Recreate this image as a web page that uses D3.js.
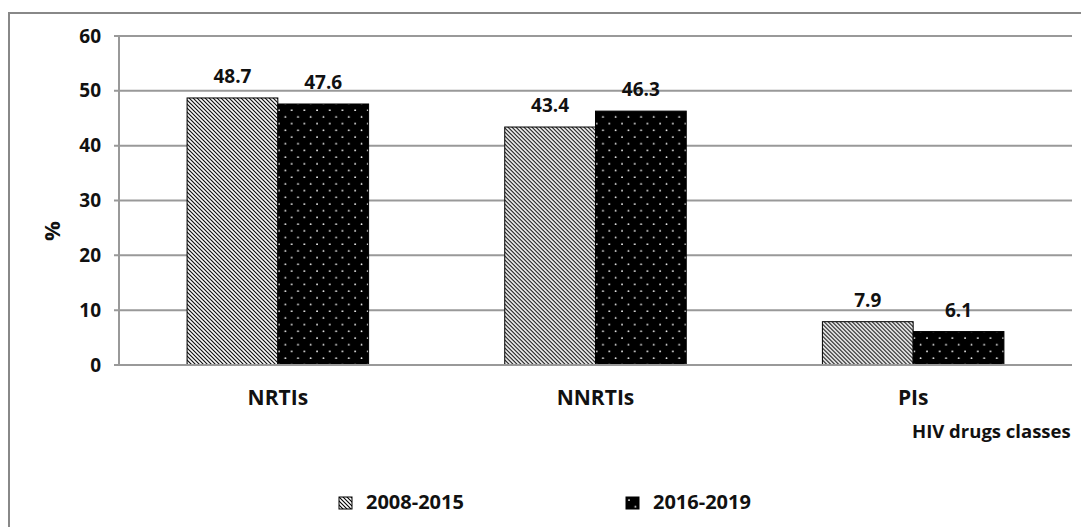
<!DOCTYPE html>
<html lang="en">
<head>
  <meta charset="UTF-8">
  <title>HIV drugs classes</title>
  <script src="https://d3js.org/d3.v7.min.js"></script>
  <style>
    body { margin: 0; background: #fff; }
    text { font-family: "Open Sans", sans-serif; font-weight: bold; fill: #111; }
    .grid line { stroke: #999; stroke-width: 2px; }
  </style>
</head>
<body>
  <div id="chart"></div>
  <script>
    // data
    const categories = ["NRTIs", "NNRTIs", "PIs"];
    const seriesNames = ["2008-2015", "2016-2019"];
    const values2008 = [48.7, 43.4, 7.9];
    const values2016 = [47.6, 46.3, 6.1];
    const yTicks = [0, 10, 20, 30, 40, 50, 60];

    const W = 1081, H = 527;
    const plot = { left: 119, right: 1072, top: 36, bottom: 365 };

    const svg = d3.select("#chart").append("svg")
      .attr("width", W).attr("height", H);

    const defs = svg.append("defs");

    // diagonal hatch for 2008-2015
    const hatch = defs.append("pattern")
      .attr("id", "hatch").attr("patternUnits", "userSpaceOnUse")
      .attr("width", 4).attr("height", 4);
    hatch.append("rect").attr("width", 4).attr("height", 4).attr("fill", "#fff");
    hatch.append("path")
      .attr("d", "M-1,-1 L5,5 M-1,3 L1,5 M3,-1 L5,1")
      .attr("stroke", "#000").attr("stroke-width", 1.1);

    // black with white dots for 2016-2019
    const dots = defs.append("pattern")
      .attr("id", "dots").attr("patternUnits", "userSpaceOnUse")
      .attr("width", 12.7).attr("height", 13.4);
    dots.append("rect").attr("width", 12.7).attr("height", 13.4).attr("fill", "#000");
    dots.append("circle").attr("cx", 3).attr("cy", 3).attr("r", 0.9).attr("fill", "#fff");
    dots.append("circle").attr("cx", 9.35).attr("cy", 9.7).attr("r", 0.9).attr("fill", "#fff");

    const fills = ["url(#hatch)", "url(#dots)"];

    // outer frame (cropped on right and bottom in the reference)
    svg.append("rect")
      .attr("x", 9).attr("y", 13).attr("width", 1300).attr("height", 700)
      .attr("fill", "none").attr("stroke", "#888").attr("stroke-width", 2);

    const y = d3.scaleLinear().domain([0, 60]).range([plot.bottom, plot.top]);
    const x0 = d3.scaleBand().domain(categories)
      .range([plot.left, plot.right])
      .paddingInner(0.4286).paddingOuter(0.2143);
    const x1 = d3.scaleBand().domain(seriesNames).range([0, x0.bandwidth()]);

    // gridlines
    svg.append("g").attr("class", "grid")
      .selectAll("line").data(yTicks).join("line")
      .attr("x1", plot.left - 5).attr("x2", plot.right)
      .attr("y1", d => y(d)).attr("y2", d => y(d));

    // y axis line
    svg.append("line")
      .attr("x1", plot.left).attr("x2", plot.left)
      .attr("y1", plot.top).attr("y2", plot.bottom)
      .attr("stroke", "#999").attr("stroke-width", 2);

    // y tick labels
    svg.append("g").selectAll("text").data(yTicks).join("text")
      .attr("x", 101).attr("y", d => y(d))
      .attr("dy", "0.35em").attr("text-anchor", "end")
      .style("font-size", "19px")
      .text(d => d);

    // y title
    svg.append("text")
      .attr("transform", "translate(52,231) rotate(-90)")
      .attr("text-anchor", "middle").attr("dy", "0.35em")
      .style("font-size", "22px")
      .text("%");

    const rows = categories.map((c, i) => ({
      cat: c,
      vals: [
        { key: seriesNames[0], v: values2008[i], s: 0 },
        { key: seriesNames[1], v: values2016[i], s: 1 }
      ]
    }));

    const groups = svg.append("g").selectAll("g").data(rows).join("g")
      .attr("transform", d => `translate(${x0(d.cat)},0)`);

    groups.selectAll("rect").data(d => d.vals).join("rect")
      .attr("x", d => x1(d.key)).attr("width", x1.bandwidth())
      .attr("y", d => y(d.v)).attr("height", d => y(0) - y(d.v))
      .attr("fill", d => fills[d.s])
      .attr("stroke", "#000").attr("stroke-width", 1);

    groups.selectAll("text.val").data(d => d.vals).join("text")
      .attr("class", "val")
      .attr("x", d => x1(d.key) + x1.bandwidth() / 2)
      .attr("y", d => y(d.v) - 15)
      .attr("text-anchor", "middle")
      .style("font-size", "19px")
      .text(d => d.v.toFixed(1));

    // x axis baseline
    svg.append("line")
      .attr("x1", plot.left - 5).attr("x2", plot.right)
      .attr("y1", plot.bottom).attr("y2", plot.bottom)
      .attr("stroke", "#999").attr("stroke-width", 2);

    // category labels
    svg.append("g").selectAll("text").data(categories).join("text")
      .attr("x", d => x0(d) + x0.bandwidth() / 2).attr("y", 405)
      .attr("text-anchor", "middle")
      .style("font-size", "21px")
      .text(d => d);

    // x title, kept just inside the right edge
    svg.append("text")
      .attr("x", 912).attr("y", 438)
      .style("font-size", "18.5px")
      .text("HIV drugs classes");

    // legend
    const legendX = [339, 626];
    const legend = svg.append("g").selectAll("g").data(seriesNames).join("g")
      .attr("transform", (d, i) => `translate(${legendX[i]},497)`);
    legend.append("rect")
      .attr("width", 13).attr("height", 12)
      .attr("fill", (d, i) => fills[i])
      .attr("stroke", "#000").attr("stroke-width", 1);
    legend.append("text")
      .attr("x", 27).attr("y", 12)
      .style("font-size", "20px")
      .text(d => d);
  </script>
</body>
</html>
